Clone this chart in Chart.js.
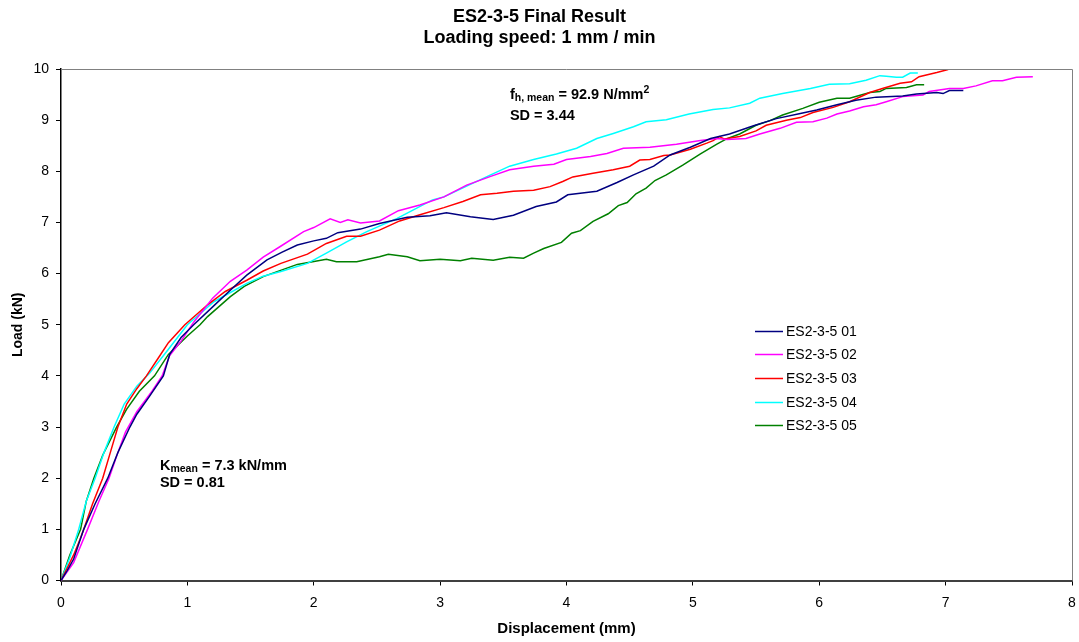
<!DOCTYPE html>
<html>
<head>
<meta charset="utf-8">
<script src="https://cdn.jsdelivr.net/npm/chart.js@4.4.1/dist/chart.umd.min.js"></script>
<style>
  html, body { margin: 0; padding: 0; background: #ffffff; }
  #wrap { width: 1079px; height: 642px; position: relative; }
</style>
</head>
<body>
<div id="wrap"><canvas id="chart" width="1079" height="642"></canvas></div>
<script>
// Specimen labels and line colours
const specimenNames = ['ES2-3-5 01', 'ES2-3-5 02', 'ES2-3-5 03', 'ES2-3-5 04', 'ES2-3-5 05'];
const specimenColors = ['#000080', '#FF00FF', '#FF0000', '#00FFFF', '#008000'];

// Displacement (mm) / load (kN) readings per specimen
const disp01 = [0,0.05,0.1,0.18,0.27,0.37,0.45,0.545,0.6,0.7,0.81,0.86,0.95,1.05,1.2,1.35,1.47,1.63,1.75,1.87,2.0,2.1,2.19,2.37,2.52,2.74,2.92,3.05,3.24,3.42,3.58,3.76,3.92,4.01,4.24,4.4,4.53,4.69,4.82,4.98,5.14,5.29,5.48,5.66,5.85,5.98,6.14,6.29,6.45,6.66,6.77,6.93,6.98,7.03,7.14];
const load01 = [0,0.2,0.42,1.0,1.5,2.0,2.5,3.0,3.25,3.6,4.0,4.42,4.75,5.0,5.35,5.7,5.97,6.27,6.42,6.56,6.64,6.69,6.8,6.87,6.98,7.1,7.13,7.19,7.11,7.06,7.14,7.31,7.4,7.54,7.61,7.78,7.93,8.1,8.32,8.47,8.64,8.73,8.89,9.03,9.13,9.2,9.3,9.39,9.45,9.47,9.51,9.54,9.52,9.58,9.58];

const disp02 = [0,0.1,0.21,0.3,0.38,0.45,0.51,0.6,0.72,0.8,0.86,0.95,1.05,1.2,1.34,1.47,1.6,1.735,1.92,2.0,2.13,2.21,2.27,2.37,2.52,2.67,2.84,3.03,3.21,3.4,3.55,3.74,3.9,4.0,4.19,4.32,4.45,4.66,4.87,5.06,5.19,5.27,5.42,5.53,5.69,5.82,5.95,6.06,6.14,6.24,6.35,6.45,6.53,6.66,6.82,6.87,7.03,7.14,7.24,7.37,7.45,7.56,7.69];
const load02 = [0,0.35,1.0,1.55,2.0,2.5,2.9,3.3,3.7,4.0,4.4,4.68,5.05,5.52,5.85,6.07,6.32,6.53,6.82,6.9,7.07,7.0,7.05,6.99,7.03,7.23,7.34,7.5,7.73,7.9,8.03,8.1,8.14,8.23,8.29,8.35,8.45,8.47,8.53,8.6,8.64,8.62,8.64,8.73,8.84,8.96,8.97,9.04,9.12,9.18,9.26,9.3,9.36,9.46,9.49,9.56,9.62,9.62,9.67,9.77,9.77,9.84,9.85];

const disp03 = [0,0.05,0.1,0.15,0.18,0.25,0.33,0.39,0.45,0.52,0.6,0.676,0.77,0.85,0.98,1.16,1.3,1.47,1.6,1.74,1.95,2.1,2.26,2.37,2.52,2.68,2.84,3.03,3.18,3.32,3.45,3.58,3.74,3.87,3.97,4.05,4.21,4.37,4.5,4.58,4.66,4.77,4.82,4.98,5.11,5.16,5.21,5.25,5.37,5.5,5.58,5.74,5.85,5.95,6.11,6.24,6.4,6.5,6.64,6.73,6.79,6.93,7.02];
const load03 = [0,0.25,0.5,0.8,1.0,1.5,2.0,2.5,3.0,3.45,3.75,4.0,4.35,4.65,5.0,5.39,5.65,5.87,6.05,6.2,6.38,6.59,6.73,6.73,6.85,7.03,7.15,7.29,7.41,7.54,7.57,7.61,7.63,7.7,7.8,7.89,7.96,8.03,8.1,8.22,8.23,8.31,8.32,8.43,8.55,8.6,8.68,8.63,8.68,8.79,8.9,9.0,9.05,9.15,9.25,9.36,9.54,9.62,9.72,9.75,9.85,9.93,9.99];

const disp04 = [0,0.07,0.14,0.2,0.27,0.34,0.42,0.5,0.6,0.7,0.85,1.0,1.21,1.47,1.6,1.74,1.95,2.1,2.26,2.42,2.66,2.94,3.03,3.21,3.4,3.55,3.74,3.92,4.08,4.24,4.37,4.53,4.63,4.79,4.97,5.16,5.29,5.45,5.53,5.71,5.93,6.08,6.24,6.37,6.48,6.53,6.61,6.66,6.72,6.78];
const load04 = [0,0.45,1.0,1.55,2.0,2.5,3.0,3.45,3.8,4.05,4.52,5.0,5.45,5.81,5.95,6.04,6.2,6.4,6.62,6.82,7.08,7.44,7.5,7.71,7.93,8.1,8.23,8.34,8.45,8.64,8.74,8.87,8.97,9.01,9.12,9.21,9.24,9.33,9.43,9.52,9.62,9.7,9.71,9.78,9.87,9.86,9.84,9.84,9.92,9.92];

const disp05 = [0,0.07,0.155,0.2,0.26,0.33,0.44,0.52,0.62,0.74,0.85,1.0,1.1,1.16,1.34,1.45,1.6,1.87,2.1,2.18,2.34,2.52,2.59,2.74,2.84,3.0,3.16,3.25,3.42,3.55,3.66,3.74,3.82,3.96,4.04,4.11,4.21,4.33,4.41,4.48,4.55,4.63,4.7,4.79,4.92,5.06,5.19,5.27,5.37,5.5,5.61,5.71,5.87,6.0,6.14,6.24,6.4,6.48,6.53,6.69,6.77,6.83];
const load05 = [0,0.5,1.0,1.55,2.0,2.45,3.0,3.35,3.7,4.0,4.42,4.78,5.0,5.16,5.55,5.75,5.94,6.18,6.28,6.23,6.23,6.33,6.38,6.33,6.25,6.28,6.25,6.3,6.26,6.32,6.3,6.4,6.49,6.61,6.79,6.84,7.02,7.17,7.33,7.39,7.56,7.67,7.82,7.93,8.12,8.34,8.53,8.64,8.73,8.9,8.99,9.1,9.23,9.35,9.43,9.43,9.54,9.56,9.62,9.64,9.69,9.69];

// Axis ranges and tick steps
const xRange = [0, 8];
const yRange = [0, 10];
const xStep = 1;
const yStep = 1;

// Summary statistics printed on the plot
const stiffnessMean = '7.3 kN/mm';
const stiffnessSD = '0.81';
const embedMean = '92.9 N/mm';
const embedSD = '3.44';

const FONT = '"Liberation Sans", Arial, Helvetica, sans-serif';
Chart.defaults.font.family = FONT;
Chart.defaults.color = '#000000';

const dispSets = [disp01, disp02, disp03, disp04, disp05];
const loadSets = [load01, load02, load03, load04, load05];

const datasets = specimenNames.map((name, i) => ({
  label: name,
  data: dispSets[i].map((d, k) => ({ x: d, y: loadSets[i][k] })),
  borderColor: specimenColors[i],
  backgroundColor: specimenColors[i],
  borderWidth: 1.5,
  pointRadius: 0,
  tension: 0,
  fill: false
}));

// Draws a run of text pieces with sub/superscripts, left to right
function drawRuns(ctx, x, y, runs) {
  let cx = x;
  runs.forEach(r => {
    ctx.font = 'bold ' + r.size + 'px ' + FONT;
    ctx.fillText(r.t, cx, y + (r.dy || 0));
    cx += ctx.measureText(r.t).width;
  });
}

// Grey top/right frame, in-plot legend and statistics text
const decorations = {
  id: 'decorations',
  afterDraw(chart) {
    const { ctx, chartArea: a, scales } = chart;
    ctx.save();
    ctx.strokeStyle = '#808080';
    ctx.lineWidth = 1;
    ctx.beginPath();
    ctx.moveTo(a.left, a.top + 0.5);
    ctx.lineTo(a.right + 0.5, a.top + 0.5);
    ctx.lineTo(a.right + 0.5, a.bottom);
    ctx.stroke();

    // legend box inside the plot
    const lx = a.left + 694;
    const ly0 = a.top + 261.5;
    const rowH = 23.7;
    ctx.textBaseline = 'middle';
    ctx.textAlign = 'left';
    chart.data.datasets.forEach((ds, i) => {
      const ly = Math.round(ly0 + i * rowH) + 0.5;
      ctx.strokeStyle = ds.borderColor;
      ctx.lineWidth = 1.5;
      ctx.beginPath();
      ctx.moveTo(lx, ly);
      ctx.lineTo(lx + 28, ly);
      ctx.stroke();
      ctx.fillStyle = '#000000';
      ctx.font = '14px ' + FONT;
      ctx.fillText(ds.label, lx + 31, ly + 0.5);
    });

    // statistics
    const xs = scales.x, ys = scales.y;
    ctx.fillStyle = '#000000';
    ctx.textBaseline = 'alphabetic';
    const kx = xs.getPixelForValue(0.783);
    drawRuns(ctx, kx, ys.getPixelForValue(2.16), [
      { t: 'K', size: 14.5 }, { t: 'mean', size: 10.5, dy: 2 }, { t: ' = ' + stiffnessMean, size: 14.5 }
    ]);
    drawRuns(ctx, kx, ys.getPixelForValue(1.83), [{ t: 'SD = ' + stiffnessSD, size: 14.5 }]);

    const fx = xs.getPixelForValue(3.552);
    drawRuns(ctx, fx, ys.getPixelForValue(9.41), [
      { t: 'f', size: 14.5 }, { t: 'h, mean', size: 10.5, dy: 2 }, { t: ' = ' + embedMean, size: 14.5 }, { t: '2', size: 10.5, dy: -6 }
    ]);
    drawRuns(ctx, fx, ys.getPixelForValue(9.0), [{ t: 'SD = ' + embedSD, size: 14.5 }]);
    ctx.restore();
  }
};

new Chart(document.getElementById('chart'), {
  type: 'line',
  data: { datasets },
  plugins: [decorations],
  options: {
    responsive: false,
    animation: false,
    devicePixelRatio: 1,
    layout: { padding: { left: 0, right: 0, top: 0, bottom: 0 } },
    plugins: {
      legend: { display: false },
      tooltip: { enabled: false },
      title: {
        display: true,
        text: ['ES2-3-5 Final Result', 'Loading speed: 1 mm / min'],
        color: '#000000',
        font: { size: 18, weight: 'bold', lineHeight: 1.2 },
        padding: { top: 6, bottom: 19.8 }
      }
    },
    scales: {
      x: {
        type: 'linear',
        min: xRange[0],
        max: xRange[1],
        ticks: { stepSize: xStep, color: '#000000', font: { size: 14 }, padding: 9 },
        grid: { drawOnChartArea: false, drawTicks: true, tickLength: 5, color: '#000000', lineWidth: 1 },
        border: { display: true, color: '#404040', width: 2 },
        title: { display: true, text: 'Displacement (mm)', color: '#000000', font: { size: 15, weight: 'bold' }, padding: { top: 0, bottom: 4 } },
        afterFit(scale) { scale.height = 61.5; scale.paddingRight = 7; }
      },
      y: {
        type: 'linear',
        min: yRange[0],
        max: yRange[1],
        ticks: { stepSize: yStep, color: '#000000', font: { size: 14 }, padding: 7 },
        grid: { drawOnChartArea: false, drawTicks: true, tickLength: 5, color: '#000000', lineWidth: 1 },
        border: { display: true, color: '#000000', width: 1.5 },
        title: { display: true, text: 'Load (kN)', color: '#000000', font: { size: 14, weight: 'bold' }, padding: { top: 10, bottom: 0 } },
        afterFit(scale) { scale.width = 61; }
      }
    }
  }
});
</script>
</body>
</html>
